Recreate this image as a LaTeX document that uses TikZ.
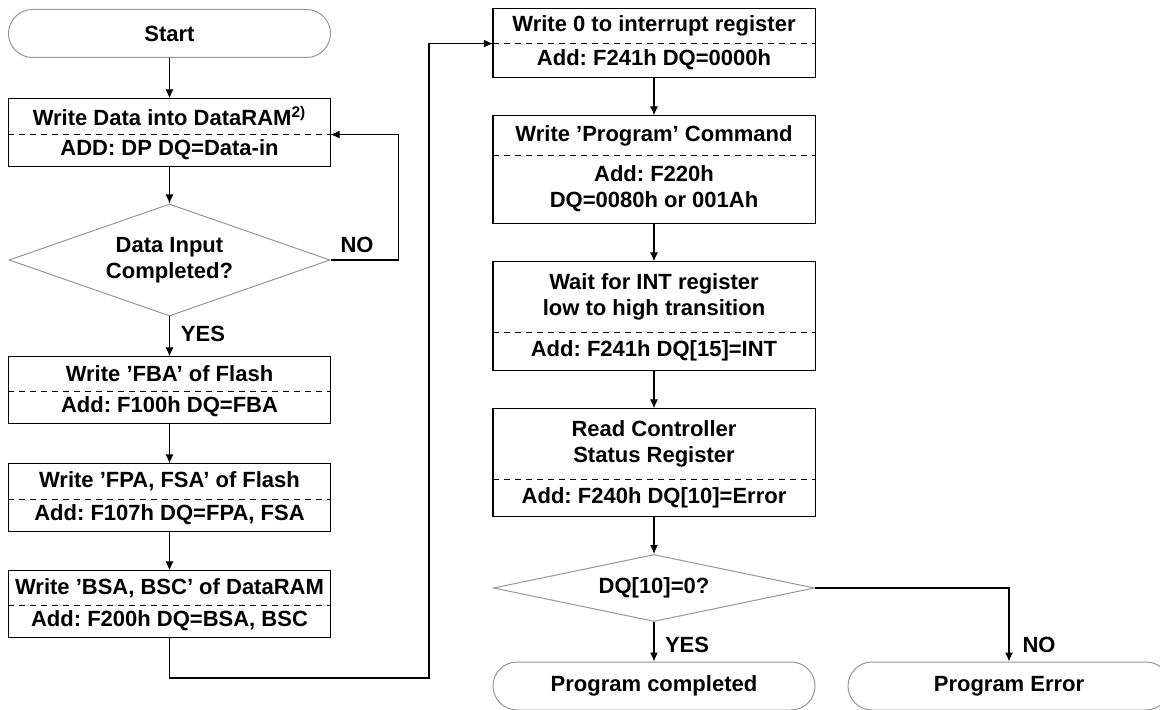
\documentclass[tikz,border=0pt]{standalone}
\usepackage{fontspec}
\setmainfont{Liberation Sans}
\usepackage{tikz}
\usetikzlibrary{arrows.meta,shapes.geometric,calc}
\definecolor{edgegray}{RGB}{150,150,150}
\frenchspacing

\begin{document}
\begin{tikzpicture}[x=0.5pt,y=-0.5pt,>={Latex[length=4.5pt,width=4pt]},line width=0.6pt,
  every node/.style={font=\fontsize{11}{13}\selectfont\bfseries},
  part/.style={minimum width=160.5pt,inner sep=0pt,align=center},
  term/.style={draw=edgegray,line width=0.5pt,rounded corners=12pt,minimum width=161pt,minimum height=24pt,inner sep=0pt},
  dec/.style={draw=edgegray,line width=0.5pt,diamond,aspect=3,inner sep=0pt,minimum width=160.5pt,align=center},
  lbl/.style={inner sep=0pt},
  sep/.style={dash pattern=on 3pt off 2.5pt}]
\useasboundingbox (0,0) rectangle (1160,710);
\clip (0,0) rectangle (1160,710);
% left column
\node[term] (start) at (169.5,33.5) {Start};
\node[part,minimum height=17.5pt] (b1t) at (169.5,116.5) {Write Data into DataRAM\textsuperscript{2)}};
\node[part,minimum height=16pt] (b1b) at (169.5,150) {ADD: DP DQ=Data-in};
\node[dec,minimum height=56pt] (d1) at (169.5,260) {Data Input\\Completed?};
\node[part,minimum height=17pt] (b2t) at (169.5,374) {Write 'FBA' of Flash};
\node[part,minimum height=16pt] (b2b) at (169.5,407) {Add: F100h DQ=FBA};
\node[part,minimum height=17.5pt] (b3t) at (169.5,481.5) {Write 'FPA, FSA' of Flash};
\node[part,minimum height=16pt] (b3b) at (169.5,515) {Add: F107h DQ=FPA, FSA};
\node[part,minimum height=17pt] (b4t) at (169.5,588) {Write 'BSA, BSC' of DataRAM};
\node[part,minimum height=16pt] (b4b) at (169.5,621) {Add: F200h DQ=BSA, BSC};
% right column
\node[part,minimum height=17pt] (r1t) at (654,26) {Write 0 to interrupt register};
\node[part,minimum height=17pt] (r1b) at (654,60) {Add: F241h DQ=0000h};
\node[part,minimum height=19.5pt] (r2t) at (654,135.5) {Write 'Program' Command};
\node[part,minimum height=34pt] (r2b) at (654,189) {Add: F220h\\DQ=0080h or 001Ah};
\node[part,minimum height=35pt] (r3t) at (654,297) {Wait for INT register\\low to high transition};
\node[part,minimum height=19pt] (r3b) at (654,351) {Add: F241h DQ[15]=INT};
\node[part,minimum height=35pt] (r4t) at (654,444) {Read Controller\\Status Register};
\node[part,minimum height=18.5pt] (r4b) at (654,497.5) {Add: F240h DQ[10]=Error};
\node[dec,minimum height=33.5pt] (d2) at (654,588) {DQ[10]=0?};
\node[term] (done) at (654,686) {Program completed};
\node[term] (err) at (1009,686) {Program Error};
% box outlines and dashed separators
\foreach \b in {b1,b2,b3,b4,r1,r2,r3,r4}{
  \draw (\b t.north west) rectangle (\b b.south east);
  \draw[sep] (\b t.south west) -- (\b t.south east);
}
% labels
\node[lbl] (no1) at (357,245) {NO};
\node[lbl] (yes1) at (203,334) {YES};
\node[lbl] (yes2) at (687,645) {YES};
\node[lbl] (no2) at (1039,645) {NO};
\coordinate (turn) at (429,678);
% connectors
\draw[->] (start) -- (b1t);
\draw[->] (b1b) -- (d1);
\draw[->] (d1.east) -- ++(68,0) |- (b1t.south east);
\draw[->] (d1) -- (b2t);
\draw[->] (b2b) -- (b3t);
\draw[->] (b3b) -- (b4t);
\draw[->] (b4b.south) |- (turn) |- (r1t.south west);
\draw[->] (r1b) -- (r2t);
\draw[->] (r2b) -- (r3t);
\draw[->] (r3b) -- (r4t);
\draw[->] (r4b) -- (d2);
\draw[->] (d2) -- (done);
\draw[->] (d2.east) -| (err.north);
\end{tikzpicture}
\end{document}
